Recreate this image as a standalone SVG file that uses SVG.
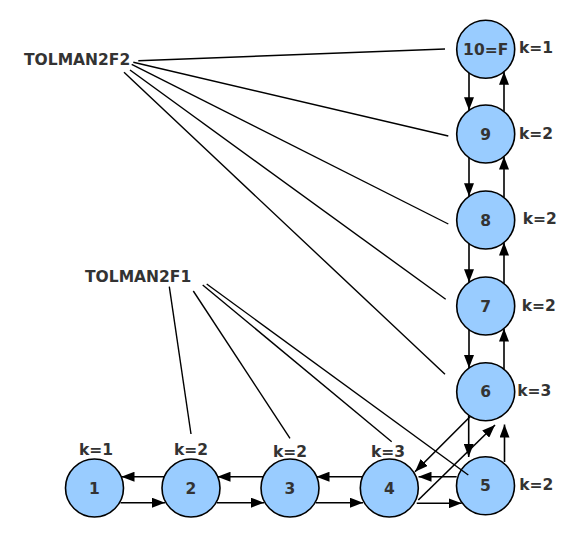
<svg xmlns="http://www.w3.org/2000/svg" width="573" height="540" viewBox="0 0 573 540">
<style>
.n{fill:#99ccff;stroke:#000;stroke-width:1.6}
.t{font-family:"DejaVu Sans",sans-serif;font-weight:bold;font-size:15.5px;fill:#333}
.m{text-anchor:middle}
.a{stroke:#000;stroke-width:1.6;fill:none;marker-end:url(#ah)}
.l{stroke:#000;stroke-width:1.4;fill:none}
</style>
<defs>
<marker id="ah" viewBox="0 0 13 10" refX="13" refY="5" markerWidth="13" markerHeight="10" markerUnits="userSpaceOnUse" orient="auto"><path d="M0,0 L13,5 L0,10 z" fill="#000"/></marker>
</defs>
<rect width="573" height="540" fill="#fff"/>
<g id="label-f2"><text class="t" x="24" y="65">TOLMAN2F2</text></g>
<g id="label-f1"><text class="t" x="85" y="281.7">TOLMAN2F1</text></g>
<g id="node1"><circle class="n" cx="94.5" cy="488" r="29"/><text class="t m" x="94.5" y="493.5">1</text><text class="t m" x="96" y="455">k=1</text></g>
<g id="node2"><circle class="n" cx="191" cy="488" r="29"/><text class="t m" x="191" y="493.5">2</text><text class="t m" x="191" y="455">k=2</text></g>
<g id="node3"><circle class="n" cx="290" cy="488" r="29"/><text class="t m" x="290" y="493.5">3</text><text class="t m" x="290" y="456.7">k=2</text></g>
<g id="node4"><circle class="n" cx="389.3" cy="488" r="29"/><text class="t m" x="389.3" y="493.5">4</text><text class="t m" x="388" y="457">k=3</text></g>
<g id="node5"><circle class="n" cx="485.5" cy="485.8" r="29"/><text class="t m" x="485.5" y="491.3">5</text><text class="t" x="519.3" y="490">k=2</text></g>
<g id="node6"><circle class="n" cx="485.7" cy="391.7" r="29"/><text class="t m" x="485.7" y="397.2">6</text><text class="t" x="517.3" y="396">k=3</text></g>
<g id="node7"><circle class="n" cx="485.7" cy="306" r="29"/><text class="t m" x="485.7" y="311.5">7</text><text class="t" x="521.7" y="311">k=2</text></g>
<g id="node8"><circle class="n" cx="485.7" cy="220" r="29"/><text class="t m" x="485.7" y="225.5">8</text><text class="t" x="522.7" y="224">k=2</text></g>
<g id="node9"><circle class="n" cx="485.7" cy="134" r="29"/><text class="t m" x="485.7" y="139.5">9</text><text class="t" x="519" y="139.3">k=2</text></g>
<g id="node10"><circle class="n" cx="485.7" cy="49.3" r="29"/><text class="t m" x="485.7" y="54.8">10=F</text><text class="t" x="519" y="53.3">k=1</text></g>
<g id="connectors">
<path class="l" d="M138.3,60.7 L445,49"/>
<path class="l" d="M133.3,62.3 L448.3,136"/>
<path class="l" d="M131.7,64.3 L448.3,224"/>
<path class="l" d="M130,70 L445.7,299.3"/>
<path class="l" d="M124,72.3 L445,374.3"/>
<path class="l" d="M169.3,286.7 L191,434"/>
<path class="l" d="M193.3,291 L290,438.3"/>
<path class="l" d="M202.7,285 L391.7,441.7"/>
<path class="l" d="M206.7,284 L468.3,475"/>
<path class="a" d="M120.5,502.7 L165,502.7"/>
<path class="a" d="M164.3,476.7 L121.5,476.7"/>
<path class="a" d="M217,502.7 L264,502.7"/>
<path class="a" d="M263.3,476.7 L217.5,476.7"/>
<path class="a" d="M316,502.7 L363,502.7"/>
<path class="a" d="M362.6,476.7 L316.5,476.7"/>
<path class="a" d="M416.7,503.3 L461.7,503.3"/>
<path class="a" d="M456.7,476.7 L418.5,476.7"/>
<path class="a" d="M470,416.7 L415,471.7"/>
<path class="a" d="M418.3,500 L495,425"/>
<path class="a" d="M468.7,415.5 L468.7,457"/>
<path class="a" d="M504.5,462 L504.5,424.5"/>
<path class="a" d="M469,73 L469,110.3"/>
<path class="a" d="M504,111.5 L504,71.8"/>
<path class="a" d="M469,157.7 L469,196.3"/>
<path class="a" d="M504,197.5 L504,156.5"/>
<path class="a" d="M469,243.7 L469,282.3"/>
<path class="a" d="M504,283.5 L504,242.5"/>
<path class="a" d="M469,329.7 L469,368"/>
<path class="a" d="M504,369.2 L504,328.5"/>
</g>
</svg>
